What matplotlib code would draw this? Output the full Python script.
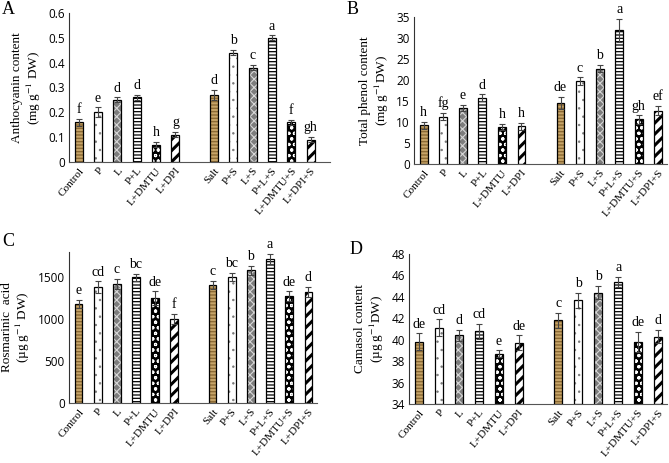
import numpy as np
import matplotlib
matplotlib.use('Agg')
import matplotlib.pyplot as plt
from matplotlib.ticker import FormatStrFormatter, FuncFormatter

plt.rcParams['mathtext.fontset'] = 'stix'

# categories (gap between the two groups)
cats = ['Control', 'P', 'L', 'P+L', 'L+DMTU', 'L+DPI',
        'Salt', 'P+S', 'L+S', 'P+L+S', 'L+DMTU+S', 'L+DPI+S']
xpos = [0, 1, 2, 3, 4, 5, 7, 8, 9, 10, 11, 12]

# A - anthocyanin
antho = [0.16, 0.20, 0.25, 0.26, 0.07, 0.11, 0.27, 0.44, 0.38, 0.50, 0.16, 0.09]
antho_err = [0.015, 0.02, 0.01, 0.01, 0.01, 0.01, 0.02, 0.01, 0.01, 0.01, 0.01, 0.01]
antho_let = ['f', 'e', 'd', 'd', 'h', 'g', 'd', 'b', 'c', 'a', 'f', 'gh']

# B - total phenol
phenol = [9.2, 11.3, 13.4, 15.8, 8.8, 9.0, 14.5, 19.7, 22.7, 31.8, 10.6, 12.7]
phenol_err = [0.9, 0.8, 0.7, 0.8, 0.7, 0.8, 1.4, 0.9, 0.9, 2.7, 1.0, 1.1]
phenol_let = ['h', 'fg', 'e', 'd', 'h', 'h', 'de', 'c', 'b', 'a', 'gh', 'ef']

# C - rosmarinic acid
rosm = [1180, 1380, 1420, 1500, 1250, 1000, 1410, 1500, 1580, 1720, 1270, 1320]
rosm_err = [50, 70, 60, 40, 80, 60, 50, 50, 50, 60, 60, 60]
rosm_let = ['e', 'cd', 'c', 'bc', 'de', 'f', 'c', 'bc', 'b', 'a', 'de', 'd']

# D - camasol
carn = [39.8, 41.1, 40.4, 40.8, 38.7, 39.7, 41.8, 43.7, 44.4, 45.4, 39.8, 40.3]
carn_err = [0.8, 0.8, 0.5, 0.7, 0.3, 0.7, 0.7, 0.7, 0.6, 0.5, 0.9, 0.6]
carn_let = ['de', 'cd', 'd', 'cd', 'e', 'de', 'c', 'b', 'b', 'a', 'de', 'd']

# bar styles: (facecolor, hatch, hatch colour, hatch linewidth)
styles = [
    ('#c6a468', '-----', '#8c6a34', 1.0),
    ('white', '..', '#777777', 0.5),
    ('#7d7d7d', 'xxxx', '#d8d8d8', 0.8),
    ('white', '-----', 'black', 0.9),
    ('black', 'ooo', 'white', 0.8),
    ('white', '///', 'black', 2.2),
]

serif = 'Liberation Serif'
sans = 'Open Sans'

W, H = 669, 463
fig = plt.figure(figsize=(W / 100, H / 100), dpi=100)


def make_ax(l, r, t, b):
    return fig.add_axes([l / W, 1 - b / H, (r - l) / W, (b - t) / H])


def draw_panel(ax, vals, errs, lets, ylim, yticks, xlim, ylabel, fmt):
    bw = 0.4
    for i, (x, v) in enumerate(zip(xpos, vals)):
        fc, hatch, hc, hlw = styles[i % 6]
        plt.rcParams['hatch.linewidth'] = hlw
        ax.bar(x, v - ylim[0], bottom=ylim[0], width=bw, color=fc, hatch=hatch,
               edgecolor=hc, linewidth=0, zorder=2)
        ax.bar(x, v - ylim[0], bottom=ylim[0], width=bw, color='none',
               edgecolor='black', linewidth=0.9, zorder=3)
    ax.errorbar(xpos, vals, yerr=errs, fmt='none', ecolor='#444444',
                elinewidth=0.8, capsize=2.5, capthick=0.8, zorder=4)
    for x, v, e, s in zip(xpos, vals, errs, lets):
        ax.annotate(s, (x, v + e), xytext=(0, 2), textcoords='offset points',
                    ha='center', va='bottom', fontsize=10, family=serif)
    ax.set_ylim(*ylim)
    ax.set_yticks(yticks)
    ax.yaxis.set_major_formatter(fmt)
    ax.set_xlim(*xlim)
    ax.set_xticks(xpos)
    ax.set_xticklabels(cats, rotation=50, ha='right', rotation_mode='anchor',
                       family=serif, fontsize=8)
    for lab in ax.get_yticklabels():
        lab.set_family(sans)
        lab.set_fontsize(8.5)
    ax.tick_params(length=0, pad=3)
    ax.tick_params(axis='x', pad=3)
    ax.spines['top'].set_visible(False)
    ax.spines['right'].set_visible(False)
    ax.spines['left'].set_color('#333333')
    ax.spines['bottom'].set_color('#555555')
    ax.set_ylabel(ylabel, family=serif, fontsize=9.5, labelpad=4, linespacing=1.1)


axA = make_ax(69, 330, 13, 162)
draw_panel(axA, antho, antho_err, antho_let, (0, 0.6), np.arange(0, 0.61, 0.1),
           (-0.5, 13.0), 'Anthocyanin content\n(mg g$^{-1}$ DW)',
           FuncFormatter(lambda v, p: '%g' % round(v, 1)))

axB = make_ax(414, 667, 17, 164)
draw_panel(axB, phenol, phenol_err, phenol_let, (0, 35), np.arange(0, 36, 5),
           (-0.5, 12.45), 'Total phenol content\n(mg g$^{-1}$DW)',
           FormatStrFormatter('%d'))

axC = make_ax(69, 317, 252, 403)
draw_panel(axC, rosm, rosm_err, rosm_let, (0, 1800), [0, 500, 1000, 1500],
           (-0.5, 12.45), 'Rosmarinic  acid\n(µg g$^{-1}$ DW)',
           FormatStrFormatter('%d'))

axD = make_ax(409, 667, 254, 404)
draw_panel(axD, carn, carn_err, carn_let, (34, 48), np.arange(34, 49, 2),
           (-0.5, 12.45), 'Camasol content\n(µg g$^{-1}$DW)',
           FormatStrFormatter('%d'))

for lab, (px, py) in zip('ABCD', [(2, 1), (347, 1), (2, 233), (350, 241)]):
    fig.text(px / W, 1 - py / H, lab, family=serif, fontsize=13, va='top', ha='left')

fig.savefig('out.png', dpi=100)
